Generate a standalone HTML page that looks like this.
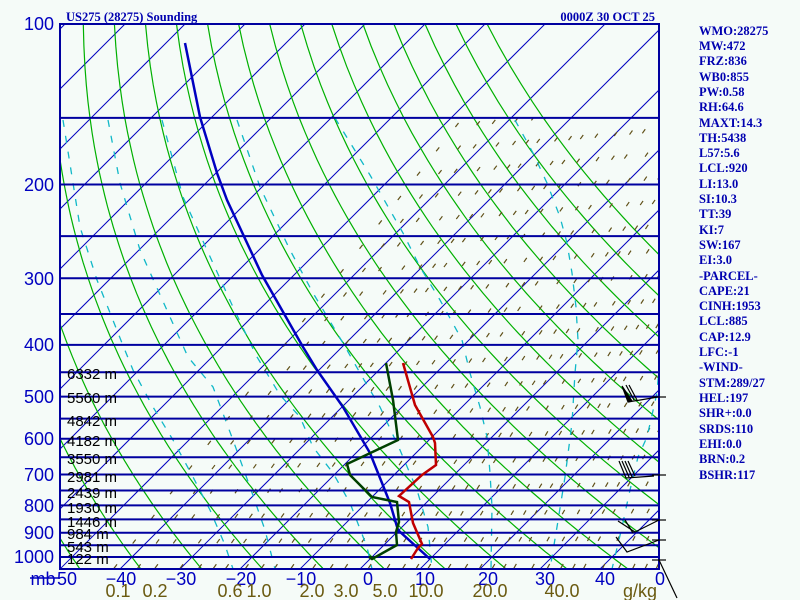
<!DOCTYPE html>
<html><head><meta charset="utf-8">
<style>
html,body{margin:0;padding:0;background:#f5fbf8;}
svg{display:block;}
.rp{font-family:"Liberation Serif",serif;font-weight:bold;font-size:12.5px;fill:#0000b0;}
.pl{font-family:"Liberation Sans",sans-serif;font-size:18px;fill:#0000c0;}
.hl{font-family:"Liberation Sans",sans-serif;font-size:15px;fill:#000;}
.ml{font-family:"Liberation Sans",sans-serif;font-size:18px;fill:#6a5a10;}
</style></head>
<body>
<svg id="s" width="800" height="600" xmlns="http://www.w3.org/2000/svg">
<rect width="800" height="600" fill="#f5fbf8"/>
<defs><clipPath id="c"><rect x="60" y="24" width="599" height="545"/></clipPath></defs>
<g id="bg" clip-path="url(#c)"></g>
<g clip-path="url(#c)" fill="none" stroke="#10b8c8" stroke-width="1.3" stroke-dasharray="7 9">
<polyline points="63,120 80,227 97,280 122,343 133,370 153,407 173,440 193,477 210,510 225,545 233,569"/>
<polyline points="108,120 120,183 140,250 170,317 188,357 213,387 233,440 250,487 265,530 275,569"/>
<polyline points="162,120 183,197 207,250 233,307 257,357 280,395 300,417 313,447 333,473 350,503 367,547 372,569"/>
<polyline points="237,120 260,187 290,250 313,293 343,343 360,373 380,407 400,450 417,490 428,527 432,569"/>
<polyline points="335,118 370,175 403,233 420,267 440,300 462,340 470,373 480,407 487,437 490,473 492,507 491,569"/>
<polyline points="515,120 533,153 547,183 560,217 567,243 572,273 576,307 578,340 575,373 572,423 565,477 557,527 550,569"/>
<polyline points="662,330 657,393 647,437 638,457 630,490 622,527 612,569"/>
</g>
<g id="iso"></g>
<text x="66" y="21" class="rp">US275 (28275) Sounding</text>
<text x="655" y="21" class="rp" text-anchor="end">0000Z 30 OCT 25</text>
<g class="pl" text-anchor="end">
<text x="54" y="30">100</text><text x="54" y="191">200</text><text x="54" y="285">300</text>
<text x="54" y="351">400</text><text x="54" y="403">500</text><text x="54" y="445">600</text>
<text x="54" y="481">700</text><text x="54" y="512">800</text><text x="54" y="539">900</text>
<text x="54" y="563">1000</text>
</g>
<g class="pl" text-anchor="middle">
<text x="43" y="585">mb</text><text x="67" y="585">50</text>
<text x="121" y="585">−40</text><text x="181" y="585">−30</text><text x="241" y="585">−20</text>
<text x="301" y="585">−10</text><text x="368" y="585">0</text><text x="425" y="585">10</text>
<text x="488" y="585">20</text><text x="545" y="585">30</text><text x="605" y="585">40</text>
<text x="660" y="585">0</text>
</g>
<line x1="30" y1="578" x2="60" y2="578" stroke="#0000c0" stroke-width="1.5"/>
<g class="ml" text-anchor="middle">
<text x="118" y="597">0.1</text><text x="155" y="597">0.2</text><text x="230" y="597">0.6</text>
<text x="259" y="597">1.0</text><text x="312" y="597">2.0</text><text x="346" y="597">3.0</text>
<text x="385" y="597">5.0</text><text x="426" y="597">10.0</text><text x="490" y="597">20.0</text>
<text x="562" y="597">40.0</text><text x="640" y="597">g/kg</text>
</g>
<g class="hl">
<text x="67" y="379">6332 m</text><text x="67" y="403">5560 m</text><text x="67" y="426">4842 m</text>
<text x="67" y="446">4182 m</text><text x="67" y="464">3550 m</text><text x="67" y="482">2981 m</text>
<text x="67" y="498">2439 m</text><text x="67" y="513">1930 m</text><text x="67" y="527">1446 m</text>
<text x="67" y="539">984 m</text><text x="67" y="552">543 m</text><text x="67" y="564">122 m</text>
</g>
<g id="data" clip-path="url(#c)">
<polyline fill="none" stroke="#0000c0" stroke-width="2.5" points="185,43 200,117 217,173 227,200 262,275 303,347 317,370 343,407 370,453 382,483 390,503 398,530 430,559"/>
<polyline fill="none" stroke="#c00000" stroke-width="2.5" points="403,363 415,405 433,437 435,443 436,465 422,475 399,496 409,502 413,523 422,544 418,548 411,559"/>
<polyline fill="none" stroke="#004000" stroke-width="2.5" points="386,363 393,400 398,440 347,464 350,475 372,497 397,502 399,522 396,532 397,545 372,559 369,557 374,558"/>
</g>
<g stroke="#000" stroke-width="1.2" fill="none">
<line x1="652" y1="397" x2="666" y2="397"/><line x1="652" y1="475" x2="666" y2="475"/>
<line x1="652" y1="520" x2="666" y2="520"/><line x1="652" y1="540" x2="666" y2="540"/>
<line x1="652" y1="560" x2="666" y2="560"/>
<line x1="659" y1="560" x2="677" y2="598"/>
<polyline points="658,397 628,402"/>
<polygon points="622,386 628,402 632,401" fill="#000"/>
<line x1="626" y1="385" x2="634" y2="400"/><line x1="629" y1="385" x2="637" y2="400"/>
<polyline points="654,476 626,478"/>
<line x1="619" y1="461" x2="626" y2="478"/><line x1="622" y1="461" x2="629" y2="477"/>
<line x1="625" y1="461" x2="632" y2="477"/><line x1="628" y1="461" x2="635" y2="476"/>
<polyline points="659,520 635,532 618,521"/><line x1="625" y1="520" x2="633" y2="533"/>
<polyline points="659,540 627,552 616,537"/>
</g>
<g class="rp">
<text x="699" y="35">WMO:28275</text><text x="699" y="50">MW:472</text><text x="699" y="65">FRZ:836</text>
<text x="699" y="81">WB0:855</text><text x="699" y="96">PW:0.58</text><text x="699" y="111">RH:64.6</text>
<text x="699" y="127">MAXT:14.3</text><text x="699" y="142">TH:5438</text><text x="699" y="157">L57:5.6</text>
<text x="699" y="172">LCL:920</text><text x="699" y="188">LI:13.0</text><text x="699" y="203">SI:10.3</text>
<text x="699" y="218">TT:39</text><text x="699" y="234">KI:7</text><text x="699" y="249">SW:167</text>
<text x="699" y="264">EI:3.0</text><text x="699" y="280">-PARCEL-</text><text x="699" y="295">CAPE:21</text>
<text x="699" y="310">CINH:1953</text><text x="699" y="325">LCL:885</text><text x="699" y="341">CAP:12.9</text>
<text x="699" y="356">LFC:-1</text><text x="699" y="371">-WIND-</text><text x="699" y="387">STM:289/27</text>
<text x="699" y="402">HEL:197</text><text x="699" y="417">SHR+:0.0</text><text x="699" y="433">SRDS:110</text>
<text x="699" y="448">EHI:0.0</text><text x="699" y="463">BRN:0.2</text><text x="699" y="479">BSHR:117</text>
</g>
</svg>
<script>
(function(){
var NS="http://www.w3.org/2000/svg";
function Y(p){return 24+231.5*Math.log(p/100);}
function X(T,p){return 60+(T+50)*6+(569-Y(p));}
var bg=document.getElementById('bg'),iso=document.getElementById('iso');
function pl(g,pts,col,w,dash){var e=document.createElementNS(NS,'polyline');e.setAttribute('points',pts.map(function(a){return a[0].toFixed(1)+','+a[1].toFixed(1)}).join(' '));e.setAttribute('fill','none');e.setAttribute('stroke',col);e.setAttribute('stroke-width',w);if(dash)e.setAttribute('stroke-dasharray',dash);g.appendChild(e);}
for(var T=-160;T<=60;T+=10){pl(bg,[[X(T,1050),Y(1050)],[X(T,100),Y(100)]],'#0000c0',1);}
for(var th=-80;th<=120;th+=10){var a=[];for(var p=1050;p>=100;p-=10){var t=(th+273.15)*Math.pow(p/1000,0.286)-273.15;a.push([X(t,p),Y(p)]);}pl(bg,a,'#00b000',1.2);}
var ws=[0.1,0.15,0.2,0.3,0.4,0.5,0.6,0.8,1,1.2,1.5,2,2.5,3,4,5,6,7,8,10,12,14,16,18,20,24,28,32,36,40,48,56,64,72,80,90,100];
ws.forEach(function(w){var a=[];for(var p=1050;p>=150;p-=10){var e=w*p/(622+w);var l=Math.log(e/6.112);var t=243.5*l/(17.67-l);a.push([X(t,p),Y(p)]);}pl(bg,a,'#605018',1.2,'5 26');});
for(var p=100;p<=1000;p+=50){var y=Y(p);pl(iso,[[60,y],[659,y]],'#0000a0',2);}
var r=document.createElementNS(NS,'rect');r.setAttribute('x',60);r.setAttribute('y',24);r.setAttribute('width',599);r.setAttribute('height',545);r.setAttribute('fill','none');r.setAttribute('stroke','#0000a0');r.setAttribute('stroke-width',2);iso.appendChild(r);
})();
</script>
</body></html>
